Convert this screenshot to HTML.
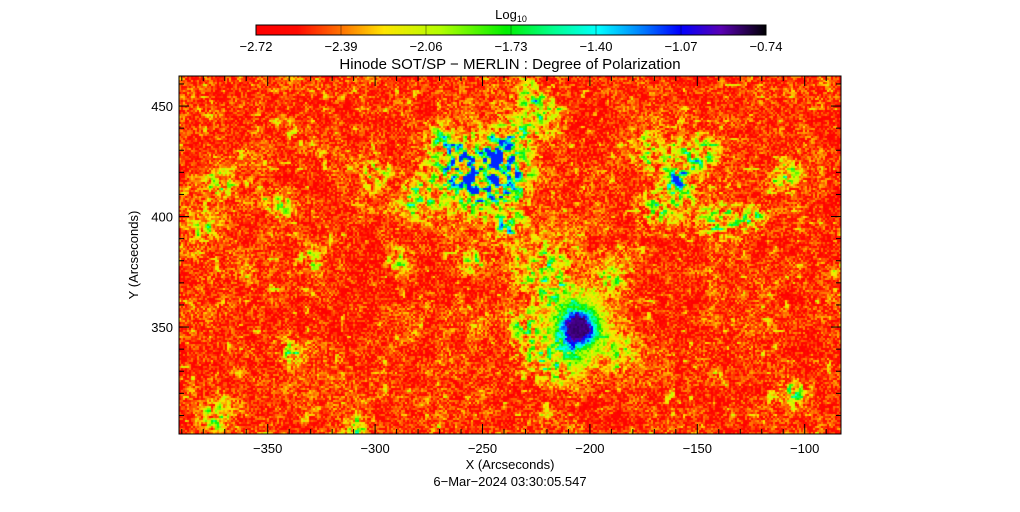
<!DOCTYPE html>
<html><head><meta charset="utf-8"><style>
body{margin:0;background:#fff;width:1020px;height:512px;overflow:hidden;font-family:"Liberation Sans",sans-serif}
#wrap{position:relative;width:1020px;height:512px}
canvas{position:absolute;left:0;top:0}
</style></head><body>
<div id="wrap">
<canvas id="cv" width="1020" height="512"></canvas>
<svg id="sv" width="1020" height="512" style="position:absolute;left:0;top:0"></svg>
</div>
<script>
const cbTicks=[-2.72,-2.39,-2.06,-1.73,-1.40,-1.07,-0.74];
const xTicks=[-350,-300,-250,-200,-150,-100];
const yTicks=[350,400,450];
// blobs in arcsec: centre x, centre y, radius, amplitude
const blobX=[-206,-206,-222,-215,-225,-215,-252,-240,-262,-245,-238,-280,-300,-235,-228,-150,-160,-170,-140,-125,-110,-105,-372,-345,-375,-340,-310,-330,-255,-380,-290,-232,-190,-185,-268,-222,-160,-175];
const blobY=[350,350,378,365,340,335,415,420,425,430,395,408,420,438,455,428,420,405,398,400,420,320,415,405,310,340,305,380,380,395,380,352,372,340,435,445,410,430];
const blobR=[8,15,12,10,10,12,14,12,12,10,7,9,6,7,7,9,8,8,9,6,6,6,6,6,7,6,5,6,5,6,6,6,7,8,8,8,8,8];
const blobA=[1.6,0.55,0.7,0.6,0.55,0.55,1.1,1.0,0.9,0.8,1.0,0.8,0.9,0.7,0.7,0.8,0.8,0.7,0.8,0.8,0.8,0.8,0.8,0.7,0.7,0.7,0.9,0.6,0.8,0.7,0.6,0.8,0.6,0.6,0.6,0.7,0.6,0.6];
const vmin=-2.72,vmax=-0.74;
const P={l:179,t:76,r:841,b:434};
const X0=-391.3,X1=-83.1,Y0=301.6,Y1=463.6;
const sx=x=>P.l+(x-X0)/(X1-X0)*(P.r-P.l);
const sy=y=>P.b-(y-Y0)/(Y1-Y0)*(P.b-P.t);
const ix=px=>X0+(px-P.l)/(P.r-P.l)*(X1-X0);
const iy=py=>Y0+(P.b-py)/(P.b-P.t)*(Y1-Y0);
const stops=[[0,255,0,0],[0.08,255,10,0],[0.17,255,120,0],[0.25,255,230,0],[0.36,180,255,0],[0.49,0,240,0],[0.58,0,255,140],[0.67,0,255,255],[0.76,0,120,255],[0.83,0,0,255],[0.91,90,0,180],[1,0,0,0]];
function cmap(t){t=Math.max(0,Math.min(1,t));for(let i=1;i<stops.length;i++){if(t<=stops[i][0]){const a=stops[i-1],b=stops[i],f=(t-a[0])/(b[0]-a[0]);return [a[1]+f*(b[1]-a[1]),a[2]+f*(b[2]-a[2]),a[3]+f*(b[3]-a[3])];}}return [0,0,0];}
function h(i,j){let n=i*374761393+j*668265263;n=(n^(n>>>13))*1274126177;n=n^(n>>>16);return ((n>>>0)%10000)/10000;}
function sm(x,y,s,o){o=o||0;const gx=Math.floor(x/s),gy=Math.floor(y/s),fx=x/s-gx,fy=y/s-gy;const a=h(gx+999+o,gy),b=h(gx+1000+o,gy),c=h(gx+999+o,gy+1),d=h(gx+1000+o,gy+1);const u=fx*fx*(3-2*fx),v=fy*fy*(3-2*fy);return a+(b-a)*u+(c-a)*v+(a-b-c+d)*u*v;}
const cv=document.getElementById('cv'),ctx=cv.getContext('2d');
const img=ctx.createImageData(P.r-P.l,P.b-P.t);
const cs=2;
for(let py=P.t;py<P.b;py+=cs){for(let px=P.l;px<P.r;px+=cs){
 const i=px/cs|0,j=py/cs|0;
 const dx=ix(px),dy=iy(py);
 let v=-2.5+0.34*(h(i,j)-0.5)+0.18*(sm(px,py,10)-0.5)+0.1*(sm(px,py,40,77)-0.5);
 const net=sm(px,py,6,333);
 v+=2.0*Math.max(0,net-0.8);
 const m2=sm(px,py,4,555);
 let add=0,spot=0;
 for(let k=0;k<blobX.length;k++){const d2=((dx-blobX[k])**2+(dy-blobY[k])**2)/(blobR[k]*blobR[k]);if(d2<9){const g=Math.exp(-d2);
   if(k<2) spot+=blobA[k]*g; else add+=blobA[k]*g*(0.15+2.2*Math.max(0,m2-0.35));}}
 v=Math.min(v+add,-1.12);
 v=Math.min(v+spot,-0.86+0.05*(h(i+7,j)-0.5));
 const c=cmap((v-vmin)/(vmax-vmin));
 for(let yy=0;yy<cs;yy++)for(let xx=0;xx<cs;xx++){const X=px-P.l+xx,Y=py-P.t+yy;if(X>=img.width||Y>=img.height)continue;const o=(Y*img.width+X)*4;img.data[o]=c[0];img.data[o+1]=c[1];img.data[o+2]=c[2];img.data[o+3]=255;}
}}
ctx.putImageData(img,P.l,P.t);
const CB={l:256,r:766,t:25,b:35};
for(let x=CB.l;x<CB.r;x++){const c=cmap((x-CB.l)/(CB.r-CB.l));ctx.fillStyle=`rgb(${c[0]|0},${c[1]|0},${c[2]|0})`;ctx.fillRect(x,CB.t,1,CB.b-CB.t);}
const NS='http://www.w3.org/2000/svg',sv=document.getElementById('sv');
function el(t,a,txt){const e=document.createElementNS(NS,t);for(const k in a)e.setAttribute(k,a[k]);if(txt!==undefined)e.textContent=txt;sv.appendChild(e);return e;}
let e;
e=el('rect',{x:CB.l,y:CB.t,width:CB.r-CB.l,height:CB.b-CB.t,fill:'none',stroke:'#000','stroke-width':1});


cbTicks.forEach((v,k)=>{const x=CB.l+(v-vmin)/(vmax-vmin)*(CB.r-CB.l);
 e=el('line',{x1:x,x2:x,y1:CB.t,y2:CB.b,stroke:'#000','stroke-opacity':0.4});
 
 
 e=el('text',{x:x,y:51,'text-anchor':'middle','font-size':13,fill:'#000'},v.toFixed(2).replace('-','\u2212'));
 
 
});
e=el('text',{x:511,y:19,'text-anchor':'middle','font-size':13},'');
e.innerHTML='Log<tspan font-size="9" dy="3">10</tspan>';


e=el('text',{x:510,y:69,'text-anchor':'middle','font-size':15},'Hinode SOT/SP \u2212 MERLIN : Degree of Polarization');


e=el('rect',{x:P.l,y:P.t,width:P.r-P.l,height:P.b-P.t,fill:'none',stroke:'#000'});


for(let x=-390;x<=-90;x+=10){const X=sx(x),maj=x%50===0,L=maj?10:5;
 el('line',{x1:X,x2:X,y1:P.b,y2:P.b-L,stroke:'#000'});el('line',{x1:X,x2:X,y1:P.t,y2:P.t+L,stroke:'#000'});}
for(let y=310;y<=460;y+=10){const Y=sy(y),maj=y%50===0,L=maj?10:5;
 el('line',{x1:P.l,x2:P.l+L,y1:Y,y2:Y,stroke:'#000'});el('line',{x1:P.r,x2:P.r-L,y1:Y,y2:Y,stroke:'#000'});}
xTicks.forEach(v=>{e=el('text',{x:sx(v),y:453,'text-anchor':'middle','font-size':13},String(v).replace('-','\u2212'));
 
 });
yTicks.forEach(v=>{e=el('text',{x:P.l-6,y:sy(v)+5,'text-anchor':'end','font-size':13},String(v));
 
 });
e=el('text',{x:510,y:469,'text-anchor':'middle','font-size':13},'X (Arcseconds)');


e=el('text',{x:0,y:0,'text-anchor':'middle','font-size':13,transform:'translate(138,255) rotate(-90)'},'Y (Arcseconds)');


e=el('text',{x:510,y:486,'text-anchor':'middle','font-size':13},'6\u2212Mar\u22122024 03:30:05.547');


</script>
</body></html>
